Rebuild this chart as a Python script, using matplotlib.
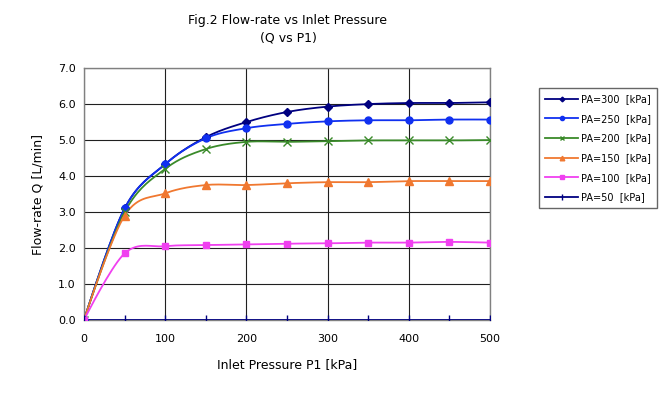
import matplotlib.pyplot as plt
import numpy as np

# Data
p1 = [0, 50, 100, 150, 200, 250, 300, 350, 400, 450, 500]
q_300 = [0, 3.10, 4.33, 5.08, 5.50, 5.78, 5.93, 6.00, 6.03, 6.03, 6.05]
q_250 = [0, 3.10, 4.33, 5.05, 5.33, 5.45, 5.52, 5.55, 5.55, 5.57, 5.57]
q_200 = [0, 3.00, 4.20, 4.75, 4.95, 4.95, 4.97, 4.99, 4.99, 4.99, 5.00]
q_150 = [0, 2.90, 3.52, 3.75, 3.75, 3.80, 3.83, 3.83, 3.86, 3.86, 3.86]
q_100 = [0, 1.85, 2.05, 2.08, 2.10, 2.12, 2.13, 2.15, 2.15, 2.17, 2.15]
q_50 = [0, 0, 0, 0, 0, 0, 0, 0, 0, 0, 0]
labels = ['PA=300  [kPa]', 'PA=250  [kPa]', 'PA=200  [kPa]',
          'PA=150  [kPa]', 'PA=100  [kPa]', 'PA=50  [kPa]']


def smooth(x, y, n=20):
    # Bezier smoothing, like a spreadsheet "smoothed line"
    x = np.asarray(x, float)
    y = np.asarray(y, float)
    xs, ys = [], []
    for i in range(len(x) - 1):
        p0 = np.array([x[max(i - 1, 0)], y[max(i - 1, 0)]])
        pa = np.array([x[i], y[i]])
        pb = np.array([x[i + 1], y[i + 1]])
        p3 = np.array([x[min(i + 2, len(x) - 1)], y[min(i + 2, len(x) - 1)]])
        k = 0.0 if i == 0 else 1 / 6
        c1 = pa + (pb - p0) * k
        c2 = pb - (p3 - pa) / 6
        t = np.linspace(0, 1, n)[:, None]
        pts = ((1 - t) ** 3 * pa + 3 * (1 - t) ** 2 * t * c1
               + 3 * (1 - t) * t ** 2 * c2 + t ** 3 * pb)
        xs.extend(pts[:, 0])
        ys.extend(pts[:, 1])
    return xs, ys


fig = plt.figure(figsize=(6.59, 3.96), dpi=100)
ax = fig.add_axes([0.1275, 0.192, 0.616, 0.636])

series = [
    (q_300, '#000080', 'D', 4),
    (q_250, '#1030f0', 'o', 5),
    (q_200, '#3a8a2a', 'x', 5.5),
    (q_150, '#f07830', '^', 5.5),
    (q_100, '#f040f0', 's', 5),
    (q_50, '#000080', '|', 7),
]

for (q, col, mk, ms), lab in zip(series, labels):
    sx, sy = smooth(p1, q)
    ax.plot(sx, sy, color=col, linewidth=1.3, zorder=3)
    ax.plot(p1, q, linestyle='none', marker=mk, color=col, markersize=ms,
            markeredgewidth=1.0, zorder=4)
    ax.plot([], [], color=col, marker=mk, markersize=ms * 0.6,
            linewidth=1.3, label=lab)

ax.set_xlim(0, 500)
ax.set_ylim(0, 7)
ax.set_xticks(range(0, 501, 100))
ax.set_yticks(np.arange(0, 7.01, 1))
ax.set_yticklabels(['%.1f' % v for v in np.arange(0, 7.01, 1)])
ax.tick_params(length=0, labelsize=8, pad=6)
ax.tick_params(axis='x', pad=10)
ax.grid(True, color='#202020', linewidth=0.8)
ax.set_axisbelow(True)
for s in ax.spines.values():
    s.set_color('#808080')
    s.set_linewidth(1.0)

ax.set_xlabel('Inlet Pressure P1 [kPa]', fontsize=9, labelpad=10)
ax.set_ylabel('Flow-rate Q [L/min]', fontsize=9, labelpad=10)
fig.text(0.437, 0.94, 'Fig.2 Flow-rate vs Inlet Pressure', ha='center',
         fontsize=9)
fig.text(0.437, 0.895, '(Q vs P1)', ha='center', fontsize=9)

leg = ax.legend(loc='upper left', bbox_to_anchor=(1.11, 0.94), fontsize=7,
                frameon=True, fancybox=False, handlelength=3.4,
                labelspacing=1.0, borderpad=0.6, handletextpad=0.3)
leg.get_frame().set_edgecolor('#404040')
leg.get_frame().set_linewidth(1.0)

fig.savefig('out.png', dpi=100)
